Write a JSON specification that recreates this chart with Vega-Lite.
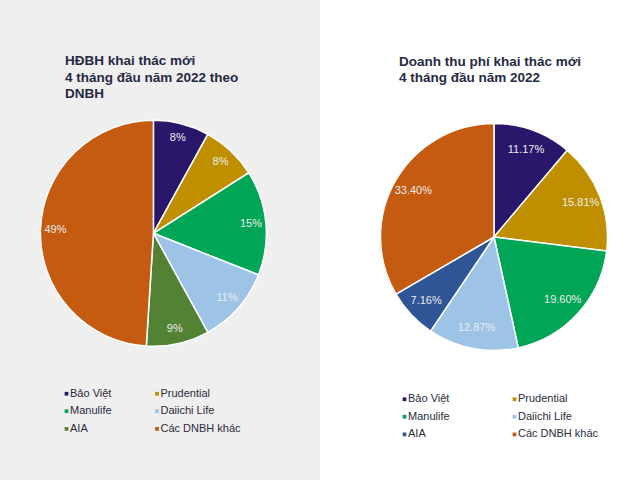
{
  "$schema": "https://vega.github.io/schema/vega-lite/v6.json",
  "background": "white",
  "padding": 0,
  "spacing": 0,
  "config": {
    "font": "Liberation Sans",
    "view": {"stroke": null},
    "legend": {"labelFont": "Liberation Sans", "labelFontSize": 11, "labelColor": "#2b2b3a", "symbolType": "square", "symbolSize": 14, "symbolStrokeWidth": 0, "labelOffset": -2, "rowPadding": 5.7, "title": null}
  },
  "resolve": {"scale": {"color": "independent", "theta": "independent"}, "legend": {"color": "independent"}},
  "hconcat": [
    {
      "width": 320,
      "height": 480,
      "view": {"fill": "#f0efef", "stroke": null},
      "title": {"text": ["HĐBH khai thác mới", "4 tháng đầu năm 2022 theo", "DNBH"], "anchor": "start", "frame": "group", "orient": "top", "offset": 0, "dx": 65, "dy": 112, "baseline": "alphabetic", "lineHeight": 16.7, "fontSize": 13.5, "fontWeight": "bold", "color": "#252a44", "font": "Liberation Sans"},
      "data": {"values": [
        {"i": 1, "dn": "Bảo Việt", "v": 8, "lbl": "8%"},
        {"i": 2, "dn": "Prudential", "v": 8, "lbl": "8%"},
        {"i": 3, "dn": "Manulife", "v": 15, "lbl": "15%"},
        {"i": 4, "dn": "Daiichi Life", "v": 11, "lbl": "11%"},
        {"i": 5, "dn": "AIA", "v": 9, "lbl": "9%"},
        {"i": 6, "dn": "Các DNBH khác", "v": 49, "lbl": "49%"}
      ]},
      "encoding": {
        "theta": {"field": "v", "type": "quantitative", "stack": true},
        "order": {"field": "i", "type": "quantitative"},
        "color": {"field": "dn", "type": "nominal",
          "scale": {"domain": ["Bảo Việt", "Prudential", "Manulife", "Daiichi Life", "AIA", "Các DNBH khác"], "range": ["#2a176b", "#bf8f00", "#00a656", "#9dc3e6", "#548235", "#c55a11"]},
          "legend": {"orient": "none", "legendX": 61, "legendY": 388, "columns": 2, "columnPadding": 39.5, "direction": "horizontal"}}
      },
      "layer": [
        {"mark": {"type": "arc", "outerRadius": 113, "stroke": "white", "strokeWidth": 1.5, "xOffset": -6.6, "yOffset": -6.7}},
        {"mark": {"type": "text", "radius": 98, "fill": "#ececec", "fontSize": 11, "font": "Liberation Sans", "xOffset": -6.6, "yOffset": -6.7},
         "encoding": {"text": {"field": "lbl"}, "color": {"value": "#ececec"}}}
      ]
    },
    {
      "width": 320,
      "height": 480,
      "view": {"stroke": null},
      "title": {"text": ["Doanh thu phí khai thác mới", "4 tháng đầu năm 2022"], "anchor": "start", "frame": "group", "orient": "top", "offset": 0, "dx": 79, "dy": 96, "baseline": "alphabetic", "lineHeight": 16.7, "fontSize": 13.5, "fontWeight": "bold", "color": "#252a44", "font": "Liberation Sans"},
      "data": {"values": [
        {"i": 1, "dn": "Bảo Việt", "v": 11.17, "lbl": "11.17%"},
        {"i": 2, "dn": "Prudential", "v": 15.81, "lbl": "15.81%"},
        {"i": 3, "dn": "Manulife", "v": 19.60, "lbl": "19.60%"},
        {"i": 4, "dn": "Daiichi Life", "v": 12.87, "lbl": "12.87%"},
        {"i": 5, "dn": "AIA", "v": 7.16, "lbl": "7.16%"},
        {"i": 6, "dn": "Các DNBH khác", "v": 33.40, "lbl": "33.40%"}
      ]},
      "encoding": {
        "theta": {"field": "v", "type": "quantitative", "stack": true},
        "order": {"field": "i", "type": "quantitative"},
        "color": {"field": "dn", "type": "nominal",
          "scale": {"domain": ["Bảo Việt", "Prudential", "Manulife", "Daiichi Life", "AIA", "Các DNBH khác"], "range": ["#2a176b", "#bf8f00", "#00a656", "#9dc3e6", "#2f5597", "#c55a11"]},
          "legend": {"orient": "none", "legendX": 79, "legendY": 393.5, "columns": 2, "columnPadding": 59, "direction": "horizontal"}}
      },
      "layer": [
        {"mark": {"type": "arc", "outerRadius": 113.5, "stroke": "white", "strokeWidth": 1.5, "xOffset": 14, "yOffset": -3}},
        {"mark": {"type": "text", "radius": 93, "fill": "#ececec", "fontSize": 11, "font": "Liberation Sans", "xOffset": 14, "yOffset": -3},
         "encoding": {"text": {"field": "lbl"}, "color": {"value": "#ececec"}}}
      ]
    }
  ]
}
